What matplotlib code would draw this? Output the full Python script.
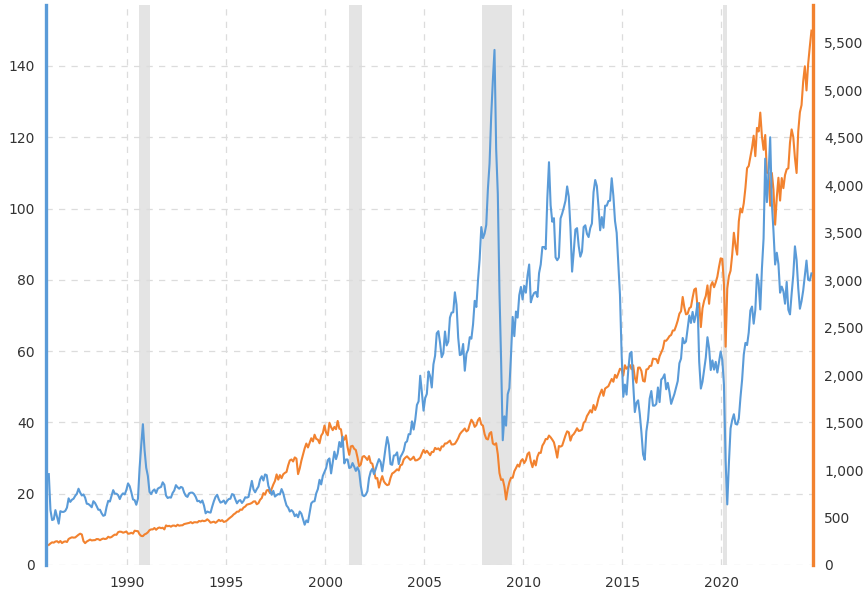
import numpy as np
import matplotlib
matplotlib.use("Agg")
import matplotlib.pyplot as plt

# Monthly values, Jan 1986 .. Jul 2024
oil_price = [
    # 1986
    25.5, 15.4, 12.6, 12.8, 15.4, 13.5, 11.6, 15.1, 14.9, 14.9, 15.2, 16.1,
    # 1987
    18.7, 17.7, 18.3, 18.6, 19.4, 20.0, 21.4, 20.3, 19.5, 19.8, 18.9, 17.2,
    # 1988
    17.1, 16.7, 16.2, 17.9, 17.4, 16.5, 15.5, 15.5, 14.5, 13.8, 14.0, 16.3,
    # 1989
    18.0, 17.8, 19.4, 21.0, 20.0, 20.0, 19.6, 18.5, 19.6, 20.1, 19.8, 21.1,
    # 1990
    22.9, 22.1, 20.4, 18.4, 18.2, 16.9, 18.6, 27.2, 33.7, 39.5, 32.3, 27.3,
    # 1991
    25.0, 20.5, 19.9, 20.8, 21.2, 20.2, 21.4, 21.7, 21.9, 23.2, 22.5, 19.5,
    # 1992
    18.8, 19.0, 18.9, 20.2, 20.9, 22.4, 21.8, 21.4, 21.9, 21.7, 20.3, 19.4,
    # 1993
    19.1, 20.1, 20.3, 20.3, 19.9, 19.1, 17.9, 18.0, 17.5, 18.1, 16.7, 14.5,
    # 1994
    15.0, 14.8, 14.7, 16.4, 17.9, 19.1, 19.7, 18.4, 17.5, 17.7, 18.1, 17.2,
    # 1995
    18.0, 18.5, 18.6, 19.9, 19.7, 18.4, 17.3, 18.0, 18.2, 17.4, 18.0, 19.0,
    # 1996
    18.9, 19.1, 21.4, 23.6, 21.2, 20.4, 21.3, 22.0, 24.0, 24.9, 23.7, 25.4,
    # 1997
    25.2, 22.2, 21.0, 19.7, 20.8, 19.2, 19.6, 19.9, 19.8, 21.3, 20.2, 18.3,
    # 1998
    16.7, 16.1, 15.0, 15.4, 14.9, 13.7, 14.2, 13.4, 15.0, 14.4, 12.9, 11.3,
    # 1999
    12.5, 12.0, 14.7, 17.3, 17.8, 17.9, 20.1, 21.3, 23.9, 22.6, 25.0, 26.1,
    # 2000
    27.2, 29.4, 29.9, 25.7, 28.8, 31.8, 29.7, 31.3, 34.5, 33.1, 36.0, 28.5,
    # 2001
    29.6, 29.6, 27.2, 27.4, 28.6, 27.6, 26.4, 27.4, 26.2, 22.2, 19.6, 19.3,
    # 2002
    19.7, 20.7, 24.4, 26.2, 27.0, 25.5, 26.9, 28.4, 29.7, 28.9, 26.3, 29.4,
    # 2003
    32.9, 35.9, 33.6, 28.3, 28.1, 30.7, 30.8, 31.6, 28.3, 30.3, 31.1, 32.1,
    # 2004
    34.3, 34.7, 36.7, 36.7, 40.3, 38.0, 40.8, 44.9, 45.9, 53.1, 48.5, 43.3,
    # 2005
    46.8, 48.0, 54.3, 53.0, 49.8, 56.3, 58.7, 65.0, 65.6, 62.4, 58.3, 59.4,
    # 2006
    65.5, 61.6, 62.7, 69.4, 70.8, 70.9, 76.5, 73.0, 63.8, 58.9, 59.1, 62.0,
    # 2007
    54.5, 59.3, 60.4, 63.9, 63.5, 67.5, 74.1, 72.4, 79.9, 85.8, 94.8, 91.7,
    # 2008
    93.0, 95.4, 105.5, 112.6, 126.0, 136.0, 144.5, 116.7, 104.1, 76.6, 57.3, 35.0,
    # 2009
    41.7, 39.1, 47.9, 49.6, 59.0, 69.6, 64.2, 71.1, 69.4, 75.7, 78.0, 74.5,
    # 2010
    78.3, 76.4, 81.2, 84.3, 73.7, 75.3, 76.3, 76.6, 75.2, 81.9, 84.3, 89.2,
    # 2011
    89.2, 88.6, 102.9, 113.0, 100.9, 96.3, 97.3, 86.3, 85.5, 86.3, 97.2, 98.6,
    # 2012
    100.3, 102.2, 106.2, 103.3, 94.7, 82.3, 87.9, 94.1, 94.5, 89.5, 86.5, 87.9,
    # 2013
    94.8, 95.3, 92.9, 92.0, 94.5, 95.8, 104.6, 108.0, 106.3, 100.5, 93.9, 97.6,
    # 2014
    94.6, 100.8, 100.8, 102.1, 102.2, 108.5, 103.6, 96.5, 93.2, 84.4, 75.8, 59.3,
    # 2015
    47.2, 50.6, 47.8, 54.5, 59.3, 59.8, 50.9, 42.9, 45.5, 46.2, 42.4, 37.2,
    # 2016
    31.0, 29.5, 37.5, 40.8, 46.7, 48.8, 44.7, 44.7, 45.2, 49.8, 45.7, 52.0,
    # 2017
    52.5, 53.5, 49.3, 51.1, 48.5, 45.2, 46.6, 48.0, 49.8, 51.6, 56.6, 57.9,
    # 2018
    63.7, 62.2, 62.7, 66.3, 70.0, 67.9, 71.0, 68.1, 70.2, 73.5, 57.0, 49.5,
    # 2019
    51.4, 54.9, 58.2, 63.9, 60.8, 54.7, 57.4, 54.8, 57.0, 54.0, 57.0, 59.9,
    # 2020
    57.5, 50.5, 29.2, 17.0, 28.6, 38.3, 40.7, 42.3, 39.6, 39.4, 41.1, 47.0,
    # 2021
    52.0, 59.0, 62.3, 61.7, 65.2, 71.4, 72.5, 67.7, 71.6, 81.5, 79.2, 71.7,
    # 2022
    83.2, 91.6, 114.0, 101.8, 109.6, 120.0, 101.6, 93.7, 84.3, 87.6, 84.4, 76.4,
    # 2023
    78.1, 76.8, 73.3, 79.4, 71.6, 70.3, 76.1, 81.4, 89.4, 85.6, 77.7, 71.9,
    # 2024
    74.0, 77.0, 81.3, 85.4, 80.0, 79.8, 81.8,
]

sp500 = [
    # 1986
    211.8, 226.9, 238.9, 235.5, 247.4, 250.8, 236.1, 252.9, 231.3, 243.9, 249.2, 242.2,
    # 1987
    274.1, 284.2, 291.7, 288.4, 290.1, 304.0, 318.7, 329.8, 321.8, 251.8, 230.3, 247.1,
    # 1988
    257.1, 267.8, 258.9, 261.3, 262.2, 273.5, 272.0, 261.5, 271.9, 278.9, 273.7, 277.7,
    # 1989
    297.5, 288.9, 294.9, 309.6, 320.5, 318.0, 346.1, 351.5, 349.2, 340.4, 346.0, 353.4,
    # 1990
    329.1, 331.9, 339.9, 330.8, 361.2, 358.0, 356.2, 322.6, 306.1, 304.0, 322.2, 330.2,
    # 1991
    343.9, 367.1, 375.2, 375.3, 389.8, 371.2, 387.8, 395.4, 387.9, 392.5, 375.2, 417.1,
    # 1992
    408.8, 412.7, 403.7, 414.9, 415.4, 408.1, 424.2, 414.0, 417.8, 418.7, 431.4, 435.7,
    # 1993
    438.8, 443.4, 451.7, 440.2, 450.2, 450.5, 448.1, 463.6, 458.9, 467.8, 461.8, 466.5,
    # 1994
    481.6, 467.1, 445.8, 450.9, 456.5, 444.3, 458.3, 475.5, 462.7, 472.4, 453.7, 459.3,
    # 1995
    470.4, 487.4, 500.7, 514.7, 533.4, 544.8, 562.1, 561.9, 584.4, 581.5, 605.4, 615.9,
    # 1996
    636.0, 640.4, 645.5, 654.2, 669.1, 670.6, 639.9, 652.0, 687.3, 705.3, 757.0, 740.7,
    # 1997
    786.2, 791.0, 757.1, 801.3, 848.3, 885.1, 954.3, 899.5, 947.3, 914.6, 955.4, 970.4,
    # 1998
    980.3, 1049.3, 1101.8, 1111.8, 1090.8, 1133.8, 1120.7, 957.3, 1017.0, 1098.7, 1163.6, 1229.2,
    # 1999
    1279.6, 1238.3, 1286.4, 1335.2, 1301.8, 1372.7, 1328.7, 1320.4, 1282.7, 1362.9, 1389.0, 1469.3,
    # 2000
    1394.5, 1366.4, 1498.6, 1452.4, 1420.6, 1454.6, 1430.8, 1517.7, 1436.5, 1429.4, 1315.2, 1320.3,
    # 2001
    1366.0, 1239.9, 1160.3, 1249.5, 1255.8, 1224.4, 1211.2, 1133.6, 1040.9, 1059.8, 1139.5, 1148.1,
    # 2002
    1130.2, 1106.7, 1147.4, 1076.9, 1067.1, 989.8, 911.6, 916.1, 815.3, 885.8, 936.3, 879.8,
    # 2003
    855.7, 841.2, 848.2, 916.9, 963.6, 974.5, 990.3, 1008.0, 996.0, 1050.7, 1058.2, 1111.9,
    # 2004
    1131.1, 1144.9, 1126.2, 1107.3, 1120.7, 1140.8, 1101.7, 1104.2, 1114.6, 1130.2, 1173.8, 1211.9,
    # 2005
    1181.3, 1203.6, 1180.6, 1156.9, 1191.5, 1191.3, 1234.2, 1220.3, 1228.8, 1207.0, 1249.5, 1248.3,
    # 2006
    1280.1, 1280.7, 1294.9, 1310.6, 1270.1, 1270.2, 1276.7, 1303.8, 1335.9, 1377.9, 1400.6, 1418.3,
    # 2007
    1438.2, 1406.8, 1420.9, 1482.4, 1530.6, 1503.4, 1455.3, 1474.0, 1526.8, 1549.4, 1481.1, 1468.4,
    # 2008
    1378.6, 1330.6, 1322.7, 1385.6, 1400.4, 1280.0, 1267.4, 1282.8, 1166.4, 968.8, 896.2, 903.3,
    # 2009
    825.9, 690.0, 797.9, 872.8, 919.1, 919.3, 987.5, 1020.6, 1057.1, 1036.2, 1095.6, 1115.1,
    # 2010
    1073.9, 1104.5, 1169.4, 1186.7, 1089.4, 1030.7, 1101.6, 1049.3, 1141.2, 1183.3, 1180.6, 1257.6,
    # 2011
    1286.1, 1327.2, 1325.8, 1363.6, 1345.2, 1320.6, 1292.3, 1218.9, 1131.4, 1253.3, 1247.0, 1257.6,
    # 2012
    1312.4, 1365.7, 1408.5, 1397.9, 1310.3, 1362.2, 1379.3, 1406.6, 1440.7, 1412.2, 1416.2, 1426.2,
    # 2013
    1498.1, 1514.7, 1569.2, 1597.6, 1630.7, 1606.3, 1685.7, 1633.0, 1681.6, 1756.5, 1805.8, 1848.4,
    # 2014
    1782.6, 1859.5, 1872.3, 1884.0, 1923.6, 1960.2, 1930.7, 2003.4, 1972.3, 2018.1, 2067.6, 2058.9,
    # 2015
    1995.0, 2104.5, 2067.9, 2085.5, 2107.4, 2063.1, 2103.8, 1972.2, 1920.0, 2079.4, 2080.4, 2043.9,
    # 2016
    1940.2, 1932.2, 2059.7, 2065.3, 2097.0, 2098.9, 2173.6, 2171.0, 2168.3, 2126.2, 2199.0, 2238.8,
    # 2017
    2278.9, 2363.6, 2362.7, 2384.2, 2411.8, 2423.4, 2470.3, 2471.7, 2519.4, 2575.3, 2647.6, 2673.6,
    # 2018
    2823.8, 2713.8, 2640.9, 2648.1, 2705.3, 2718.4, 2816.3, 2901.5, 2914.0, 2711.7, 2760.2, 2506.9,
    # 2019
    2704.1, 2784.5, 2834.4, 2945.8, 2752.1, 2941.8, 2980.4, 2926.5, 2976.7, 3037.6, 3141.0, 3230.8,
    # 2020
    3225.5, 2954.2, 2300.0, 2912.4, 3044.3, 3100.3, 3271.1, 3500.3, 3363.0, 3270.0, 3621.6, 3756.1,
    # 2021
    3714.2, 3811.2, 3972.9, 4181.2, 4204.1, 4297.5, 4395.3, 4522.7, 4307.5, 4605.4, 4567.0, 4766.2,
    # 2022
    4515.6, 4373.9, 4530.4, 4131.9, 4132.2, 3785.4, 4130.3, 3955.0, 3585.6, 3872.0, 4080.1, 3839.5,
    # 2023
    4076.6, 3970.2, 4109.3, 4169.5, 4179.8, 4450.4, 4589.0, 4507.7, 4288.1, 4130.0, 4567.8, 4769.8,
    # 2024
    4845.7, 5096.3, 5254.4, 5000.0, 5277.5, 5460.5, 5630.0,
]

start_year = 1986
recessions = [(1990.58, 1991.17), (2001.2, 2001.87), (2007.92, 2009.45), (2020.1, 2020.3)]
year_ticks = [1990, 1995, 2000, 2005, 2010, 2015, 2020]
left_ticks = [0, 20, 40, 60, 80, 100, 120, 140]
right_ticks = [0, 500, 1000, 1500, 2000, 2500, 3000, 3500, 4000, 4500, 5000, 5500]

blue = "#5a9bd8"
orange = "#f2822f"
grid_c = "#dcdcdc"
text_c = "#333333"

x_oil = start_year + (np.arange(len(oil_price)) + 0.5) / 12.0
x_sp = start_year + (np.arange(len(sp500)) + 0.5) / 12.0

fig = plt.figure(figsize=(8.66, 5.93), dpi=100)
ax = fig.add_axes([46 / 866, 1 - 565 / 593, (813 - 46) / 866, 560 / 593])
ax2 = ax.twinx()

# put blue (ax) above orange (ax2)
ax.set_zorder(ax2.get_zorder() + 1)
ax.patch.set_visible(False)

for a, b in recessions:
    ax2.axvspan(a, b, color="#e4e4e4", lw=0, zorder=0)

for xt in year_ticks:
    ax2.axvline(xt, color=grid_c, lw=0.9, ls=(0, (5, 5)), zorder=0.5)
for yt in left_ticks:
    ax2.axhline(yt * 5900 / 157.1, color=grid_c, lw=0.9, ls=(0, (5, 5)), zorder=0.5)

ax2.plot(x_sp, sp500, color=orange, lw=1.5, zorder=2)
ax.plot(x_oil, oil_price, color=blue, lw=1.5, zorder=3)

ax.set_xlim(1985.9, 2024.62)
ax.set_ylim(0, 157.1)
ax2.set_ylim(0, 5900)

ax.set_xticks(year_ticks)
ax.set_xticklabels([str(y) for y in year_ticks])
ax.set_yticks(left_ticks)
ax2.set_yticks(right_ticks)
ax2.set_yticklabels([f"{v:,}" for v in right_ticks])

for a in (ax, ax2):
    a.tick_params(length=0, labelsize=10, colors=text_c, pad=8)
    for s in ("top", "bottom"):
        a.spines[s].set_visible(False)

ax.spines["right"].set_visible(False)
ax.spines["left"].set_color(blue)
ax.spines["left"].set_linewidth(2.4)
ax2.spines["left"].set_visible(False)
ax2.spines["right"].set_color(orange)
ax2.spines["right"].set_linewidth(2.4)

fig.savefig("out.png", dpi=100)
